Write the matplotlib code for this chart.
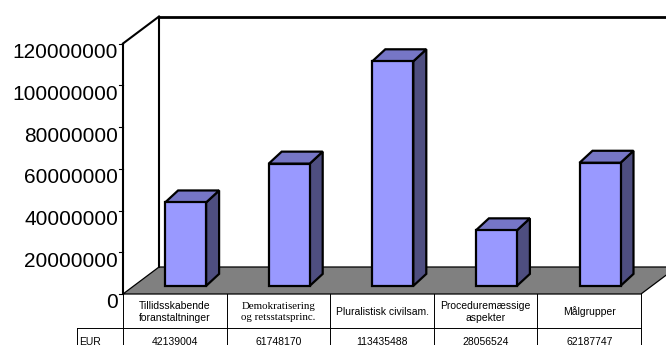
import matplotlib
matplotlib.use("Agg")
import matplotlib.pyplot as plt
from matplotlib.patches import Polygon, Rectangle

categories = [
    "Tillidsskabende\nforanstaltninger",
    "Demokratisering\nog retsstatsprinc.",
    "Pluralistisk civilsam.",
    "Proceduremæssige\naspekter",
    "Målgrupper",
]
eur_values = [42139004, 61748170, 113435488, 28056524, 62187747]
series_name = "EUR"
y_ticks = [0, 20000000, 40000000, 60000000, 80000000, 100000000, 120000000]

# layout of the pseudo-3D box, in pixels
W, H = 666, 345
X0, Y0 = 123, 294          # front-left corner of the floor
COL_W = 103.6              # width of one category column
DEPTH_DX, DEPTH_DY = 36, -27
AXIS_PX_PER_UNIT = 250.5 / 120e6
BAR_PX_PER_UNIT = 1.98 / 1e6
BAR_PLANE = 0.30           # bars stand this far into the floor depth
BAR_W = 41
BAR_DX, BAR_DY = 13, -12

FRONT = "#9999ff"
TOP = "#7676c6"
SIDE = "#4e4e80"
FLOOR = "#808080"


def axis_y(v):
    return Y0 - v * AXIS_PX_PER_UNIT


fig = plt.figure(figsize=(W / 100, H / 100), dpi=100)
ax = fig.add_axes([0, 0, 1, 1])
ax.set_xlim(0, W)
ax.set_ylim(H, 0)
ax.axis("off")

n = len(categories)
x_right = X0 + n * COL_W
top_y = axis_y(y_ticks[-1])

# floor
floor = Polygon([(X0, Y0), (x_right, Y0), (x_right + DEPTH_DX, Y0 + DEPTH_DY),
                 (X0 + DEPTH_DX, Y0 + DEPTH_DY)], closed=True,
                facecolor=FLOOR, edgecolor="black", lw=0.9, zorder=1)
ax.add_patch(floor)

# walls
ax.plot([X0, X0], [Y0, top_y], color="black", lw=1.5, zorder=2)
ax.plot([X0 + DEPTH_DX, X0 + DEPTH_DX], [Y0 + DEPTH_DY, top_y + DEPTH_DY],
        color="black", lw=1.5, zorder=2)
ax.plot([X0, X0 + DEPTH_DX], [top_y, top_y + DEPTH_DY], color="black", lw=1.5, zorder=2)
ax.plot([X0 + DEPTH_DX, W + 5], [top_y + DEPTH_DY, top_y + DEPTH_DY],
        color="black", lw=2.0, zorder=2)

# value axis ticks and labels
for t in y_ticks:
    ty = axis_y(t)
    ax.plot([X0 - 4, X0], [ty, ty], color="black", lw=0.8, zorder=2)
    ax.text(X0 - 5, ty + 9, f"{t:d}", ha="right", va="center",
            fontsize=15, family="Liberation Sans", color="black")

# bars
base_y = Y0 + BAR_PLANE * DEPTH_DY
shift_x = BAR_PLANE * DEPTH_DX
for i, v in enumerate(eur_values):
    cx = X0 + COL_W * (i + 0.5) + shift_x
    left, right = cx - BAR_W / 2, cx + BAR_W / 2
    ty = base_y - v * BAR_PX_PER_UNIT
    side = Polygon([(right, base_y), (right + BAR_DX, base_y + BAR_DY),
                    (right + BAR_DX, ty + BAR_DY), (right, ty)], closed=True,
                   facecolor=SIDE, edgecolor="black", lw=1.6, zorder=3, joinstyle="miter")
    top = Polygon([(left, ty), (right, ty), (right + BAR_DX, ty + BAR_DY),
                   (left + BAR_DX, ty + BAR_DY)], closed=True,
                  facecolor=TOP, edgecolor="black", lw=1.6, zorder=3, joinstyle="miter")
    front = Rectangle((left, ty), BAR_W, base_y - ty, facecolor=FRONT,
                      edgecolor="black", lw=1.6, zorder=4, joinstyle="miter")
    for p in (side, top, front):
        ax.add_patch(p)

# data table below the chart
row_y = Y0 + 34
tl = dict(color="black", lw=0.7, zorder=5)
for k in range(n + 1):
    xk = X0 + k * COL_W
    ax.plot([xk, xk], [Y0, H + 2], **tl)
ax.plot([77, x_right], [row_y, row_y], **tl)
ax.plot([77, 77], [row_y, H + 2], **tl)

for i, (cat, v) in enumerate(zip(categories, eur_values)):
    cx = X0 + COL_W * (i + 0.5)
    if i == 1:
        ax.text(cx, (Y0 + row_y) / 2 + 1, cat, ha="center", va="center",
                fontsize=7.8, family="Liberation Serif", linespacing=1.35)
    else:
        ax.text(cx, (Y0 + row_y) / 2 + 1, cat, ha="center", va="center",
                fontsize=7.5, family="Liberation Sans", linespacing=1.25)
    ax.text(cx, row_y + 14, f"{v:d}", ha="center", va="center",
            fontsize=7.5, family="Liberation Sans")
ax.text(79, row_y + 14, series_name, ha="left", va="center",
        fontsize=7.5, family="Liberation Sans")

fig.savefig("out.png", dpi=100, facecolor="white")
